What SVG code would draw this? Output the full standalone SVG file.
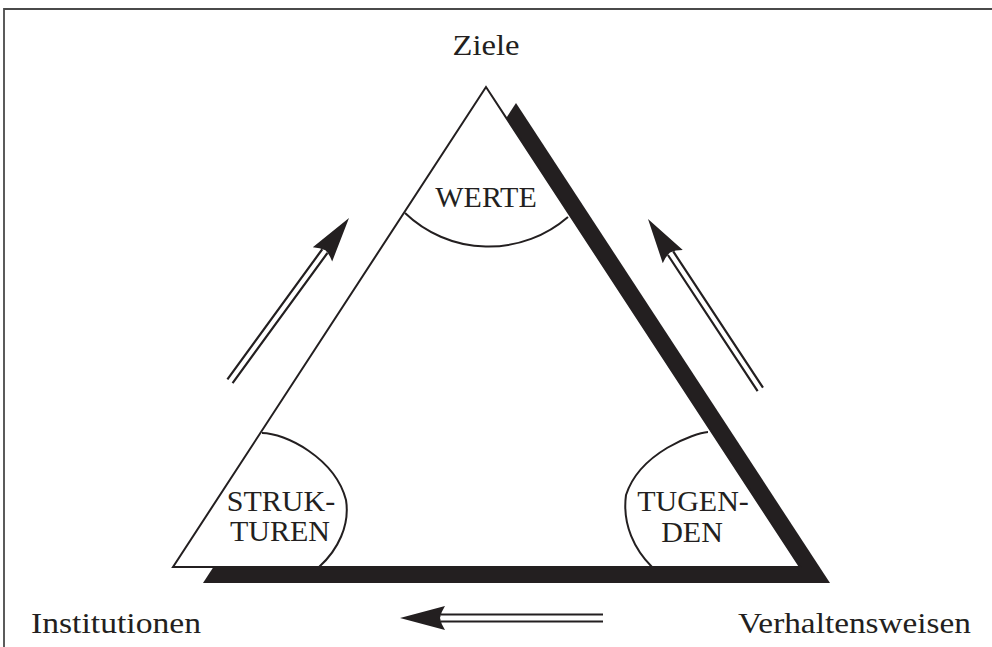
<svg xmlns="http://www.w3.org/2000/svg" xmlns:xlink="http://www.w3.org/1999/xlink" width="992" height="647" viewBox="0 0 992 647">
  <style>
    .label { font-family: "Liberation Serif", "Times New Roman", serif; font-size: 30px; fill: #231f20; }
    .mid { text-anchor: middle; }
    .thin { fill: none; stroke: #231f20; stroke-width: 2; }
    .rail { fill: none; stroke: #231f20; stroke-width: 2.2; }
    .frame { fill: none; stroke: #4a4a4a; stroke-width: 1.8; }
  </style>
  <defs>
    <!-- arrowhead pointing along +x, tip at the origin -->
    <path id="head" d="M0,0 L-45,-12 Q-41,-6 -40,0 Q-41,6 -45,12 Z" fill="#231f20"/>
  </defs>

  <rect width="992" height="647" fill="#ffffff"/>
  <path class="frame" d="M4,647 V9 H992"/>

  <!-- triangle with offset shadow -->
  <g id="triangle">
    <polygon points="516,103 203,583 830,583" fill="#231f20"/>
    <polygon points="486,87 173,567 800,567" fill="#ffffff" stroke="#231f20" stroke-width="2" stroke-linejoin="miter"/>
  </g>

  <g id="werte">
    <path class="thin" d="M405,213 A121,121 0 0 0 568,217"/>
    <text class="label mid" x="486" y="207">WERTE</text>
  </g>

  <g id="strukturen">
    <path class="thin" d="M262,433 C285,433 335,458 346,500 C350,525 338,550 319,567"/>
    <text class="label mid" x="281" y="511">STRUK-</text>
    <text class="label mid" x="280" y="541">TUREN</text>
  </g>

  <g id="tugenden">
    <path class="thin" d="M708,432 C695,433 640,452 626,495 C622,525 635,550 652,567"/>
    <text class="label mid" x="693" y="511">TUGEN-</text>
    <text class="label mid" x="692" y="542">DEN</text>
  </g>

  <g id="ziele">
    <text class="label mid" x="486" y="55" textLength="67" lengthAdjust="spacingAndGlyphs">Ziele</text>
  </g>
  <g id="institutionen">
    <text class="label" x="31" y="633" textLength="170" lengthAdjust="spacingAndGlyphs">Institutionen</text>
  </g>
  <g id="verhaltensweisen">
    <text class="label" x="738" y="633" textLength="233" lengthAdjust="spacingAndGlyphs">Verhaltensweisen</text>
  </g>

  <!-- double-line arrows -->
  <g id="connectors">
    <g transform="translate(349,218) rotate(-53.9)">
      <path class="rail" d="M-41,-3.2 H-202 M-41,3.2 H-202"/>
      <use xlink:href="#head"/>
    </g>
    <g transform="translate(648,219) rotate(-123.4)">
      <path class="rail" d="M-41,-3.2 H-204 M-41,3.2 H-204"/>
      <use xlink:href="#head"/>
    </g>
    <g transform="translate(400,618) rotate(180)">
      <path class="rail" d="M-41,-3.5 H-203 M-41,3.5 H-203"/>
      <use xlink:href="#head"/>
    </g>
  </g>
</svg>
